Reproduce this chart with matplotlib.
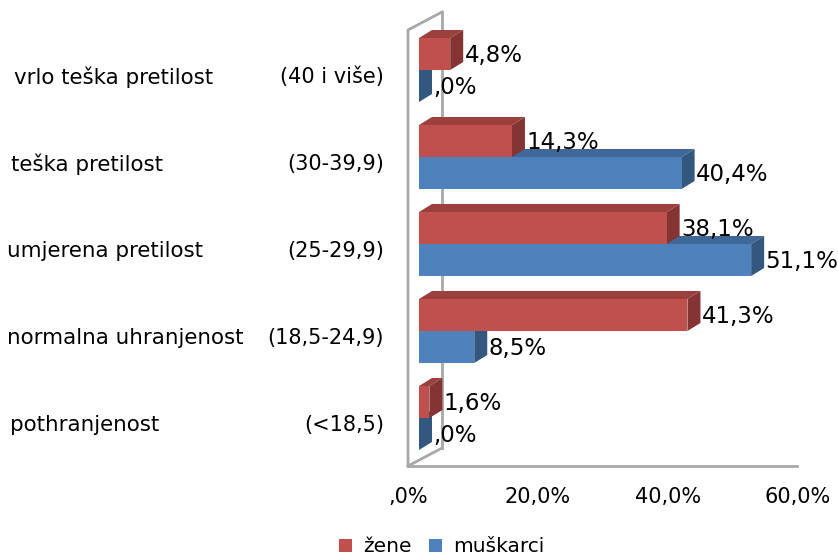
import matplotlib
matplotlib.use('Agg')
import matplotlib.pyplot as plt
from matplotlib.patches import Polygon

# Data
categories = ['pothranjenost', 'normalna uhranjenost', 'umjerena pretilost',
              'teška pretilost', 'vrlo teška pretilost']
ranges = ['(<18,5)', '(18,5-24,9)', '(25-29,9)', '(30-39,9)', '(40 i više)']
zene = [1.6, 41.3, 38.1, 14.3, 4.8]
muskarci = [0.0, 8.5, 51.1, 40.4, 0.0]
ticks = [0, 20, 40, 60]
tick_labels = [',0%', '20,0%', '40,0%', '60,0%']

W, H = 838, 555
RED = ('#C0504D', '#9C403D', '#843533')
BLUE = ('#4F81BD', '#3F6797', '#345780')
WALL = '#A8A8A8'

fig = plt.figure(figsize=(W / 100, H / 100), dpi=100)
plt.rcParams['font.family'] = 'DejaVu Sans'

# x=0 sits at px 419, one percent is 6.5 px; one category step is 87 px
ax = fig.add_axes([419 / W, 1 - 461.5 / H, 390 / W, 435 / H])
ax.set_xlim(0, 60)
ax.set_ylim(-0.5, 4.5)
ax.axis('off')

px_x = 1 / 6.5
px_y = 1 / 87
dx, dy = 13 * px_x, 8 * px_y
h = 32 * px_y


def xp(px):
    return (px - 419) * px_x


def yp(px):
    return (418 - px) * px_y


# walls and floor
wall_kw = dict(color=WALL, lw=2.0, clip_on=False, solid_capstyle='projecting')
ax.plot([xp(442), xp(442)], [yp(448), yp(12)], zorder=1, **wall_kw)
ax.plot([xp(408), xp(442)], [yp(466), yp(448)], zorder=1, **wall_kw)
ax.plot([xp(408), xp(408), xp(442)], [yp(466), yp(30), yp(12)], zorder=1, **wall_kw)
ax.plot([xp(408), xp(797)], [yp(466), yp(466)], zorder=1, **wall_kw)


def bar3d(val, y0, cols):
    # y0 is the lower edge of the front face
    ax.add_patch(Polygon([(0, y0 + h), (val, y0 + h), (val + dx, y0 + h + dy), (dx, y0 + h + dy)],
                         fc=cols[1], ec='none', zorder=3, clip_on=False))
    ax.add_patch(Polygon([(val, y0), (val + dx, y0 + dy), (val + dx, y0 + h + dy), (val, y0 + h)],
                         fc=cols[2], ec='none', zorder=3, clip_on=False))
    ax.barh(y0, val, height=h, align='edge', color=cols[0], zorder=4)


def fmt(v):
    s = f'{v:.1f}'.replace('.', ',')
    return s[1:] + '%' if v == 0 else s + '%'


for i in range(len(categories)):
    bar3d(muskarci[i], i - h, BLUE)
    bar3d(zene[i], i, RED)
    ax.text(muskarci[i] + 2.2, i - h / 2 - 0.02, fmt(muskarci[i]), fontsize=16.5,
            va='center', ha='left', zorder=6, clip_on=False)
    ax.text(zene[i] + 2.2, i + h / 2 - 0.02, fmt(zene[i]), fontsize=16.5,
            va='center', ha='left', zorder=6, clip_on=False)

# category labels
label_left = [10, 7, 7, 11, 14]
for i, name in enumerate(categories):
    y = 1 - (418 - 87 * i + 7) / H
    fig.text(label_left[i] / W, y, name, fontsize=15.4, ha='left', va='center')
    fig.text(384 / W, y, ranges[i], fontsize=15, ha='right', va='center')

# x tick labels
for t, lab in zip(ticks, tick_labels):
    ax.text(xp(408) + t, yp(497), lab, fontsize=15, ha='center', va='center', clip_on=False)

# legend
handles = [plt.Rectangle((0, 0), 1, 1, fc=RED[0]), plt.Rectangle((0, 0), 1, 1, fc=BLUE[0])]
fig.legend(handles, ['žene', 'muškarci'], ncols=2, frameon=False, fontsize=14.5,
           loc='center', bbox_to_anchor=(442 / W, 1 - 547 / H),
           handlelength=0.65, handleheight=0.65, handletextpad=0.55, columnspacing=0.85,
           borderpad=0, borderaxespad=0)

fig.savefig('out.png', dpi=100)
